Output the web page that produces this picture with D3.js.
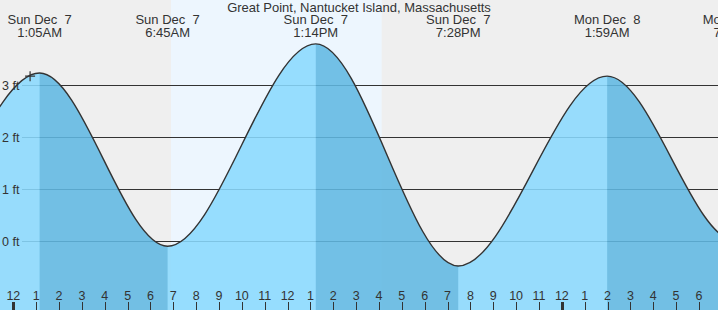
<!DOCTYPE html>
<html>
<head>
<meta charset="utf-8">
<script src="https://cdn.jsdelivr.net/npm/d3@7.9.0/dist/d3.min.js"></script>
<style>
  html, body { margin: 0; padding: 0; background: #efefef; }
  svg { display: block; font-family: "Liberation Sans", Arial, sans-serif; }
  .lbl { fill: #333; }
</style>
</head>
<body>
<div id="chart"></div>
<script>
const title = "Great Point, Nantucket Island, Massachusetts";

// tide extremes (local clock times), incl. the ones just off-screen
const extremeTimes = ["2025-12-06T12:25", "2025-12-06T18:40", "2025-12-07T01:09", "2025-12-07T06:45",
                      "2025-12-07T13:14", "2025-12-07T19:28", "2025-12-08T01:59", "2025-12-08T07:37",
                      "2025-12-08T14:05"];
const extremeHeights = [3.7, -0.4, 3.23, -0.1, 3.79, -0.48, 3.17, 0.0, 3.6];
const extremeDays = ["Sat Dec  6", "Sat Dec  6", "Sun Dec  7", "Sun Dec  7", "Sun Dec  7",
                     "Sun Dec  7", "Mon Dec  8", "Mon Dec  8", "Mon Dec  8"];
const extremeClock = ["12:25PM", "6:40PM", "1:05AM", "6:45AM", "1:14PM", "7:28PM", "1:59AM", "7:37AM", "2:05PM"];

const sunrise = "2025-12-07T06:54";
const sunset = "2025-12-07T16:07";

const yTicks = [0, 1, 2, 3];
const nowTime = "2025-12-07T00:44";
const nowHeight = 3.17;

const W = 718, H = 310;
const parse = s => new Date(s + ":00Z");

const x = d3.scaleUtc()
  .domain([parse("2025-12-06T23:25"), parse("2025-12-08T06:50")])
  .range([0, W]);
const y = d3.scaleLinear().domain([0, 3]).range([241, 85]);

const tides = extremeTimes.map((t, i) => ({
  t: parse(t), h: extremeHeights[i], day: extremeDays[i], clock: extremeClock[i]
}));

const svg = d3.select("#chart").append("svg")
  .attr("width", W)
  .attr("height", H);

// night / day background
svg.append("rect").attr("width", W).attr("height", H).attr("fill", "#efefef");
svg.append("rect")
  .attr("x", x(parse(sunrise)))
  .attr("width", x(parse(sunset)) - x(parse(sunrise)))
  .attr("height", H)
  .attr("fill", "#edf6fe");

// grid lines
svg.append("g").selectAll("line")
  .data(yTicks)
  .join("line")
    .attr("x1", 22).attr("x2", W)
    .attr("y1", d => y(d)).attr("y2", d => y(d))
    .attr("stroke", "#333")
    .attr("stroke-width", 1)
    .attr("shape-rendering", "crispEdges");

const area = d3.area()
  .x(d => x(d.t))
  .y0(H)
  .y1(d => y(d.h))
  .curve(d3.curveMonotoneX);

const line = d3.line()
  .x(d => x(d.t))
  .y(d => y(d.h))
  .curve(d3.curveMonotoneX);

svg.append("clipPath").attr("id", "water")
  .append("path").attr("d", area(tides));

const water = svg.append("g").attr("opacity", 0.87);
water.append("path").attr("d", area(tides)).attr("fill", "#8adaff");

// falling tide: from a high to the following low
const falling = tides.slice(0, -1)
  .map((d, i) => [d, tides[i + 1]])
  .filter(([a, b]) => a.h > b.h);

water.append("g").attr("clip-path", "url(#water)")
  .selectAll("rect")
  .data(falling)
  .join("rect")
    .attr("x", d => x(d[0].t))
    .attr("width", d => x(d[1].t) - x(d[0].t))
    .attr("y", 0)
    .attr("height", H)
    .attr("fill", "#60b9e3");

svg.append("path")
  .attr("d", line(tides))
  .attr("fill", "none")
  .attr("stroke", "#333")
  .attr("stroke-width", 1.4);

// y labels
svg.append("g").selectAll("text")
  .data(yTicks)
  .join("text")
    .attr("class", "lbl")
    .attr("x", 2)
    .attr("y", d => y(d) + 4.5)
    .attr("font-size", 12.5)
    .text(d => `${d} ft`);

// hour ticks
const hours = x.ticks(d3.utcHour.every(1));
const hg = svg.append("g");
hg.selectAll("line")
  .data(hours)
  .join("line")
    .attr("x1", d => Math.round(x(d)) + 0.5).attr("x2", d => Math.round(x(d)) + 0.5)
    .attr("y1", 302).attr("y2", H)
    .attr("stroke", "#333")
    .attr("stroke-width", d => d.getUTCHours() === 0 ? 3 : 1);
hg.selectAll("text")
  .data(hours)
  .join("text")
    .attr("class", "lbl")
    .attr("x", d => x(d))
    .attr("y", 300)
    .attr("text-anchor", "middle")
    .attr("font-size", 12.5)
    .text(d => d.getUTCHours() % 12 || 12);

// title and extreme labels
svg.append("text")
  .attr("class", "lbl")
  .attr("x", W / 2)
  .attr("y", 11.5)
  .attr("text-anchor", "middle")
  .attr("font-size", 13)
  .text(title);

const heads = svg.append("g").selectAll("g")
  .data(tides.filter(d => x(d.t) > -40 && x(d.t) < W + 60))
  .join("g")
    .attr("transform", d => `translate(${x(d.t)},0)`);
heads.append("text").attr("class", "lbl")
  .attr("y", 24).attr("text-anchor", "middle").attr("font-size", 13)
  .attr("xml:space", "preserve").style("white-space", "pre")
  .text(d => d.day);
heads.append("text").attr("class", "lbl")
  .attr("y", 36.5).attr("text-anchor", "middle").attr("font-size", 13)
  .text(d => d.clock);

// current time marker
const nx = x(parse(nowTime)), ny = y(nowHeight);
svg.append("path")
  .attr("d", `M${nx - 5},${ny}H${nx + 5}M${nx},${ny - 5}V${ny + 5}`)
  .attr("stroke", "#333")
  .attr("stroke-width", 1.2);
</script>
</body>
</html>
